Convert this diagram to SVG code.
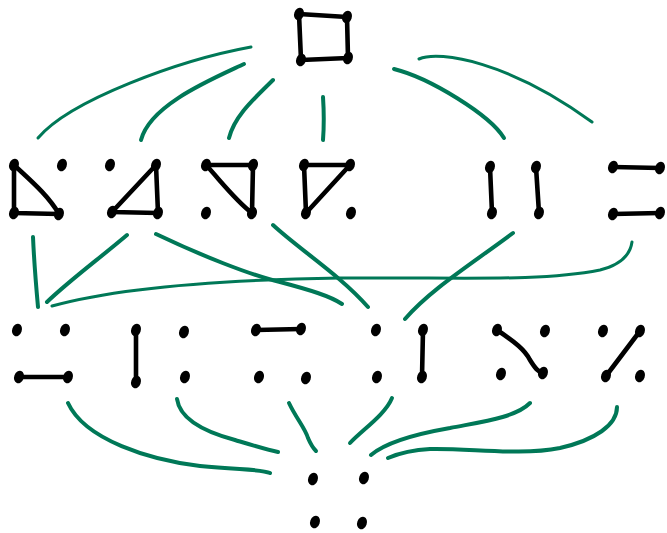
<svg xmlns="http://www.w3.org/2000/svg" width="667" height="533" viewBox="0 0 667 533">
<style>
.e{fill:none;stroke:#000;stroke-width:4.6;stroke-linecap:round;stroke-linejoin:round}
.c{fill:none;stroke:#007857;stroke-width:4;stroke-linecap:round}
.t{stroke-width:3}
</style>
<defs>
<ellipse id="v" rx="4.8" ry="6.4" transform="rotate(20)"/>
</defs>
<rect width="667" height="533" fill="#fff"/>
<g id="connectors">
<path class="c t" d="M251,47 C180,60 70,100 38,138"/>
<path class="c" d="M244,64 C210,80 150,105 141,140"/>
<path class="c" d="M273,80 C255,98 235,115 229,138"/>
<path class="c" d="M323,97 C324,112 324,127 323,140"/>
<path class="c" d="M394,69 C430,78 490,115 504,138"/>
<path class="c t" d="M419,59 C440,50 510,62 592,122"/>
<path class="c" d="M33,237 C34,260 36,285 38,307"/>
<path class="c" d="M127,235 C100,258 70,280 47,302"/>
<path class="c" d="M156,234 C200,255 250,275 280,282 C310,290 330,296 342,304"/>
<path class="c" d="M273,225 C300,250 340,275 368,307"/>
<path class="c" d="M513,233 C470,265 430,290 405,319"/>
<path class="c t" d="M632,242 C630,256 620,265 600,270 C540,282 460,277 340,278 C200,280 110,290 52,306"/>
<path class="c" d="M68,403 C85,440 150,460 200,466 C240,470 262,469 270,473"/>
<path class="c" d="M177,399 C180,420 205,432 235,440 C255,446 268,450 278,452"/>
<path class="c" d="M289,403 C296,418 305,428 308,438 C311,445 313,448 316,451"/>
<path class="c" d="M392,398 C385,415 362,430 350,443"/>
<path class="c" d="M530,403 C515,418 480,422 450,428 C410,435 385,443 371,455"/>
<path class="c" d="M617,407 C617,425 595,440 560,448 C520,456 470,448 430,449 C410,450 395,455 388,458"/>
</g>
<g id="n-square">
<path class="e" d="M299,14 L347,17 L348,58 L301,60 Z"/>
<use href="#v" x="299" y="14"/><use href="#v" x="347" y="17"/><use href="#v" x="301" y="60"/><use href="#v" x="348" y="58"/>
</g>
<g id="n-tri1">
<path class="e" d="M14,165 L14,213 L59,214 M14,165 C30,180 48,195 59,214"/>
<use href="#v" x="14" y="165"/><use href="#v" x="62" y="165"/><use href="#v" x="14" y="213"/><use href="#v" x="59" y="214"/>
</g>
<g id="n-tri2">
<path class="e" d="M156,165 L112,212 L158,213 Z"/>
<use href="#v" x="110" y="165"/><use href="#v" x="156" y="165"/><use href="#v" x="112" y="212"/><use href="#v" x="158" y="213"/>
</g>
<g id="n-tri3">
<path class="e" d="M206,165 L253,165 L252,213 M206,165 C220,180 235,200 252,213"/>
<use href="#v" x="206" y="165"/><use href="#v" x="253" y="165"/><use href="#v" x="206" y="213"/><use href="#v" x="252" y="213"/>
</g>
<g id="n-tri4">
<path class="e" d="M304,165 L350,165 L306,213 Z"/>
<use href="#v" x="304" y="165"/><use href="#v" x="350" y="165"/><use href="#v" x="306" y="213"/><use href="#v" x="351" y="213"/>
</g>
<g id="n-par-v">
<path class="e" d="M490,167 L492,213 M536,167 L539,213"/>
<use href="#v" x="490" y="167"/><use href="#v" x="492" y="213"/><use href="#v" x="536" y="167"/><use href="#v" x="539" y="213"/>
</g>
<g id="n-par-h">
<path class="e" d="M613,167 L660,168 M613,214 L660,213"/>
<use href="#v" x="613" y="167"/><use href="#v" x="660" y="168"/><use href="#v" x="613" y="214"/><use href="#v" x="660" y="213"/>
</g>
<g id="n-e1">
<path class="e" d="M19,377 L68,377"/>
<use href="#v" x="17" y="330"/><use href="#v" x="65" y="330"/><use href="#v" x="19" y="377"/><use href="#v" x="68" y="377"/>
</g>
<g id="n-e2">
<path class="e" d="M136,330 L136,382"/>
<use href="#v" x="136" y="330"/><use href="#v" x="136" y="382"/><use href="#v" x="184" y="332"/><use href="#v" x="185" y="377"/>
</g>
<g id="n-e3">
<path class="e" d="M256,330 L301,329"/>
<use href="#v" x="256" y="330"/><use href="#v" x="301" y="329"/><use href="#v" x="259" y="377"/><use href="#v" x="306" y="378"/>
</g>
<g id="n-e4">
<path class="e" d="M423,330 L422,377"/>
<use href="#v" x="376" y="330"/><use href="#v" x="377" y="377"/><use href="#v" x="423" y="330"/><use href="#v" x="422" y="377"/>
</g>
<g id="n-e5">
<path class="e" d="M497,330 C515,342 525,350 530,360 C535,368 538,372 543,373"/>
<use href="#v" x="497" y="330"/><use href="#v" x="545" y="331"/><use href="#v" x="501" y="374"/><use href="#v" x="543" y="373"/>
</g>
<g id="n-e6">
<path class="e" d="M640,331 L606,376"/>
<use href="#v" x="603" y="331"/><use href="#v" x="640" y="331"/><use href="#v" x="606" y="376"/><use href="#v" x="640" y="376"/>
</g>
<g id="n-empty">
<use href="#v" x="313" y="479"/><use href="#v" x="364" y="478"/><use href="#v" x="315" y="522"/><use href="#v" x="362" y="523"/>
</g>
</svg>
